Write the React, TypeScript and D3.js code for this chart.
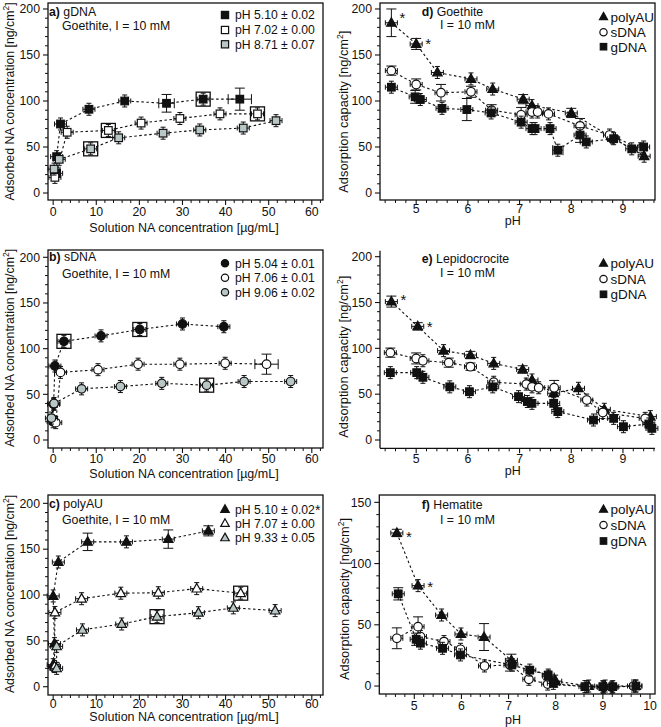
import React from 'react';
import * as d3 from 'd3';

type Pt = number[]; // [x, y, xerr?, yerr?, boxed?]

// ---------- Panel a: gDNA on goethite ----------
const aPH510: Pt[] = [[0.8, 21.4], [0.8, 39.5], [1.7, 75], [8.3, 91], [16.6, 100], [26.3, 97.5, 1.8, 9.6], [34.8, 102, 0, 0, 1], [43.3, 102, 2.7, 12]];
const aPH702: Pt[] = [[0.4, 17], [3.25, 66], [12.8, 68, 0, 0, 1], [20.4, 76], [29.4, 81], [38.7, 86], [47.4, 86, 0, 0, 1]];
const aPH871: Pt[] = [[0.2, 26], [1.4, 36.6], [8.7, 48, 0, 0, 1], [15.2, 60], [25.5, 65], [34, 68.5], [44.1, 70.6], [51.7, 78.6]];
const aLegend = ['pH 5.10 ± 0.02', 'pH 7.02 ± 0.00', 'pH 8.71 ± 0.07'];

// ---------- Panel b: sDNA on goethite ----------
const bPH504: Pt[] = [[0, 20], [0.1, 39], [0.4, 81], [2.5, 108, 0, 0, 1], [11.1, 114], [20.1, 121, 0, 0, 1], [30, 127], [39.6, 124]];
const bPH706: Pt[] = [[0.6, 19], [1.7, 74], [10.4, 77], [19.7, 83], [29.4, 83], [39.9, 84], [49.5, 83, 2.7, 11]];
const bPH906: Pt[] = [[-0.4, 24], [0.2, 40], [6.6, 56], [15.6, 58.5], [25.2, 62], [35.6, 60, 0, 0, 1], [44.3, 64], [55.1, 64]];
const bLegend = ['pH 5.04 ± 0.01', 'pH 7.06 ± 0.01', 'pH 9.06 ± 0.02'];

// ---------- Panel c: polyAU on goethite ----------
const cPH510: Pt[] = [[0, 24], [0.3, 47], [0, 99], [1.2, 136], [8, 158, 0, 9.5], [17, 158], [26.7, 161, 0, 10], [36, 170, 0, 5.5]];
const cPH707: Pt[] = [[0.3, 22], [0.4, 81], [6.6, 96], [15.7, 102], [24.4, 102.5], [33.3, 107], [43.5, 102, 0, 0, 1]];
const cPH933: Pt[] = [[0.8, 20], [0.8, 44], [6.8, 62], [15.9, 68.4], [24.1, 76.4, 0, 0, 1], [33.7, 80.7], [41.8, 86], [51.5, 83]];
const cLegend = ['pH 5.10 ± 0.02', 'pH 7.07 ± 0.00', 'pH 9.33 ± 0.05'];

// ---------- Panel d: goethite, adsorption capacity vs pH ----------
const dPolyAU: Pt[] = [[4.52, 185, 0, 15], [5.0, 162, 0, 6], [5.41, 131], [6.06, 124], [6.48, 113], [7.07, 102, 0, 5], [7.24, 95], [8.0, 87, 0, 5], [8.8, 60], [9.41, 40]];
const dSDNA: Pt[] = [[4.52, 133, 0, 5], [5.0, 118, 0, 6], [5.48, 109, 0, 9], [6.06, 110, 0, 6], [6.46, 90, 0, 6], [7.03, 85, 0, 8], [7.24, 88], [7.35, 88], [7.56, 86], [8.17, 73, 0, 8], [8.74, 63], [9.34, 48]];
const dGDNA: Pt[] = [[4.52, 115], [4.98, 104.5, 0, 7], [5.08, 101.6], [5.5, 92], [5.98, 90.7, 0, 12], [6.45, 87], [7.03, 77], [7.24, 70], [7.3, 70], [7.59, 70], [7.74, 46.5, 0.1, 0], [8.17, 63, 0, 8], [8.29, 55.5], [8.82, 59], [9.17, 48], [9.4, 50]];

// ---------- Panel e: lepidocrocite ----------
const ePolyAU: Pt[] = [[4.52, 151, 0, 6], [5.03, 124, 0, 4], [5.53, 97.5], [6.05, 92.7, 0, 4], [6.5, 83.6], [7.06, 77, 0, 4], [7.24, 65.5], [7.66, 51], [8.14, 56.4], [8.64, 33.5], [9.53, 25.5]];
const eSDNA: Pt[] = [[4.5, 95.3, 0, 5], [5.0, 89, 0, 6], [5.13, 86.5], [5.63, 84.4, 0, 5], [6.05, 80, 0, 4], [6.5, 63], [7.13, 61], [7.24, 58], [7.37, 57], [7.67, 57, 0, 8], [8.3, 43.6], [8.61, 30], [9.43, 23.6]];
const eGDNA: Pt[] = [[4.5, 73.5], [5.01, 73.5], [5.13, 68.4], [5.65, 58], [6.03, 52.7], [6.48, 58], [6.98, 47.3], [7.15, 42], [7.24, 40], [7.66, 40], [7.74, 31], [8.43, 21.8], [8.82, 23.6], [9.01, 14.5], [9.5, 17.5], [9.56, 12.7]];

// ---------- Panel f: hematite ----------
const fPolyAU: Pt[] = [[4.63, 125, 0, 3], [5.08, 82], [5.58, 58], [5.99, 42.5], [6.48, 40, 0, 11], [7.06, 21, 0, 5], [7.85, 8], [8.0, 4], [8.7, 0], [9.05, 0], [9.7, 0]];
const fSDNA: Pt[] = [[4.63, 39, 0, 8.5], [5.08, 48.5, 0, 8], [5.13, 40.4], [5.63, 36.3], [5.98, 30], [6.49, 16.4], [7.03, 17.2, 0, 5], [7.43, 5.5], [7.83, 1.6], [8.66, -0.5], [9.01, -1], [9.19, -1], [9.65, 0]];
const fGDNA: Pt[] = [[4.66, 75.3, 0, 5], [5.04, 38.2, 0, 5], [5.13, 35], [5.6, 30.8], [5.98, 25.4], [7.07, 17.2], [7.45, 13], [7.84, 9], [7.95, 2.2], [8.62, -0.5], [9.0, -0.5], [9.21, -0.5], [9.7, 0]];

const naLegend = ['polyAU', 'sDNA', 'gDNA'];

const xTicksConc = [0, 10, 20, 30, 40, 50, 60];
const yTicksConc = [0, 50, 100, 150, 200];
const xTicksPH = [5, 6, 7, 8, 9];
const xTicksPHf = [5, 6, 7, 8, 9, 10];
const yTicksCap = [0, 50, 100, 150, 200];
const yTicksCapF = [0, 50, 100, 150];

const FONT = '"Liberation Sans", Arial, Helvetica, sans-serif';
const GRAY = '#b8c6c6';
const BLACK = '#111';
const WHITE = '#fff';

type Marker = 'square' | 'circle' | 'triangle';
interface Series { data: Pt[]; marker: Marker; fill: string; }

function Sym({ m, fill, x, y, k = 1 }: { m: Marker; fill: string; x: number; y: number; k?: number }) {
  const sw = 1.2;
  if (m === 'square') { const h = 3.8 * k; return <rect x={x - h} y={y - h} width={2 * h} height={2 * h} fill={fill} stroke={BLACK} strokeWidth={sw} />; }
  if (m === 'circle') return <circle cx={x} cy={y} r={4.3 * k} fill={fill} stroke={BLACK} strokeWidth={sw} />;
  const h = 8.5 * k, w = 9.5 * k;
  return <path d={`M${x},${y - h * 0.6}L${x + w / 2},${y + h * 0.4}L${x - w / 2},${y + h * 0.4}Z`} fill={fill} stroke={BLACK} strokeWidth={sw} strokeLinejoin="miter" />;
}

interface PanelCfg {
  frame: { l: number; t: number; r: number; b: number };
  xd: number[]; yd: number[];
  xt: number[]; xm: number; yt: number[]; ym: number;
  box: boolean;
  series: Series[];
  legend: string[];
  legendAst?: boolean;
  legPos: { mx: number; tx: number; ys: number[]; k: number; fs: number };
  label: string[]; labelPos: { x: number; y: number };
  sub: string; subPos: { x: number; y: number };
  xTitle: string; xTitlePos: { x: number; y: number };
  yTitle: string; yTitlePos: { x: number; y: number; fs: number };
  tickLabelY: number;
  asts?: { s: number; i: number; dx: number; dy: number }[];
}

function minors(lo: number, hi: number, step: number, majors: number[]) {
  const out: number[] = [];
  for (let i = Math.ceil(lo / step - 1e-9); i <= Math.floor(hi / step + 1e-9); i++) {
    const v = +(i * step).toFixed(6);
    if (!majors.some(m => Math.abs(m - v) < 1e-6)) out.push(v);
  }
  return out;
}

function Panel({ c }: { c: PanelCfg }) {
  const { l, t, r, b } = c.frame;
  const x = d3.scaleLinear().domain(c.xd).range([l, r]);
  const y = d3.scaleLinear().domain(c.yd).range([b, t]);
  const line = d3.line<Pt>().x(d => x(d[0])).y(d => y(d[1]));
  const xMin = minors(c.xd[0], c.xd[1], c.xm, c.xt);
  const yMin = minors(c.yd[0], c.yd[1], c.ym, c.yt);
  const yTop = c.box ? t : y(c.yt[c.yt.length - 1]) - 6;
  return (
    <g>
      {c.box ? <rect x={l} y={t} width={r - l} height={b - t} fill="none" stroke={BLACK} strokeWidth={1.3} /> : (
        <g>
          <line x1={l} x2={l} y1={yTop} y2={b} stroke={BLACK} strokeWidth={1.3} />
          <line x1={l} x2={r} y1={b} y2={b} stroke={BLACK} strokeWidth={1.3} />
        </g>
      )}
      {c.xt.map(v => <line key={'xt' + v} x1={x(v)} x2={x(v)} y1={b} y2={b + 5} stroke={BLACK} strokeWidth={1.1} />)}
      {xMin.map(v => <line key={'xm' + v} x1={x(v)} x2={x(v)} y1={b} y2={b + 3} stroke={BLACK} strokeWidth={1} />)}
      {c.yt.map(v => <line key={'yt' + v} x1={l - 5} x2={l} y1={y(v)} y2={y(v)} stroke={BLACK} strokeWidth={1.1} />)}
      {yMin.map(v => <line key={'ym' + v} x1={l - 3} x2={l} y1={y(v)} y2={y(v)} stroke={BLACK} strokeWidth={1} />)}
      {c.xt.map(v => <text key={'xl' + v} x={x(v)} y={c.tickLabelY} textAnchor="middle" fontSize={12.3}>{v}</text>)}
      {c.yt.map(v => <text key={'yl' + v} x={l - 8} y={y(v) + 4.3} textAnchor="end" fontSize={12.3}>{v}</text>)}
      <text x={c.xTitlePos.x} y={c.xTitlePos.y} textAnchor="middle" fontSize={12.5}>{c.xTitle}</text>
      <text transform={`translate(${c.yTitlePos.x},${c.yTitlePos.y}) rotate(-90)`} textAnchor="middle" fontSize={c.yTitlePos.fs}>
        {c.yTitle} [ng/cm<tspan fontSize={8.5} dy={-5}>2</tspan><tspan dy={5}>]</tspan>
      </text>
      <text x={c.labelPos.x} y={c.labelPos.y} fontSize={12.3}><tspan fontWeight="bold">{c.label[0]}</tspan> {c.label[1]}</text>
      <text x={c.subPos.x} y={c.subPos.y} fontSize={12.3}>{c.sub}</text>
      {c.series.map((s, i) => <path key={'ln' + i} d={line(s.data) || ''} fill="none" stroke={BLACK} strokeWidth={1.1} strokeDasharray="2.5,2.5" />)}
      {c.series.map((s, si) => (
        <g key={'s' + si}>
          {s.data.map((d, i) => {
            const cx = x(d[0]), cy = y(d[1]);
            const exPx = d[2] ? Math.abs(x(d[0] + d[2]) - cx) : 0;
            const eyPx = d[3] ? Math.abs(y(d[1] + d[3]) - cy) : 0;
            const hx = exPx || 6, capH = exPx ? 5 : 2.5;
            const vy = eyPx || 6, capW = eyPx ? 5 : 2.5;
            return (
              <g key={i} stroke={BLACK} strokeWidth={1}>
                <line x1={cx - hx} x2={cx + hx} y1={cy} y2={cy} />
                <line x1={cx - hx} x2={cx - hx} y1={cy - capH} y2={cy + capH} />
                <line x1={cx + hx} x2={cx + hx} y1={cy - capH} y2={cy + capH} />
                <line x1={cx} x2={cx} y1={cy - vy} y2={cy + vy} />
                <line x1={cx - capW} x2={cx + capW} y1={cy - vy} y2={cy - vy} />
                <line x1={cx - capW} x2={cx + capW} y1={cy + vy} y2={cy + vy} />
                {d[4] ? <rect x={cx - 7} y={cy - 7} width={14} height={14} fill="none" stroke={BLACK} strokeWidth={1.3} /> : null}
              </g>
            );
          })}
          {s.data.map((d, i) => <Sym key={'m' + i} m={s.marker} fill={s.fill} x={x(d[0])} y={y(d[1])} />)}
        </g>
      ))}
      {(c.asts || []).map((a, i) => {
        const d = c.series[a.s].data[a.i];
        return <text key={'ast' + i} x={x(d[0]) + a.dx} y={y(d[1]) + a.dy} textAnchor="middle" fontSize={15}>*</text>;
      })}
      {c.series.map((s, i) => (
        <g key={'lg' + i}>
          <Sym m={s.marker} fill={s.fill} x={c.legPos.mx} y={c.legPos.ys[i]} k={c.legPos.k} />
          <text x={c.legPos.tx} y={c.legPos.ys[i] + c.legPos.fs * 0.36} fontSize={c.legPos.fs}>{c.legend[i]}{c.legendAst && i === 0 ? <tspan fontSize={14} dy={1}>*</tspan> : null}</text>
        </g>
      ))}
    </g>
  );
}

const concX = 'Solution NA concentration [µg/mL]';
const concY = 'Adsorbed NA concentration';
const capY = 'Adsorption capacity';

const panels: PanelCfg[] = [
  {
    frame: { l: 48, t: 3, r: 323, b: 200 }, xd: [-1.2, 62.6], yd: [-7.6, 206.5],
    xt: xTicksConc, xm: 2, yt: yTicksConc, ym: 10, box: true,
    series: [{ data: aPH510, marker: 'square', fill: BLACK }, { data: aPH702, marker: 'square', fill: WHITE }, { data: aPH871, marker: 'square', fill: GRAY }],
    legend: aLegend, legPos: { mx: 225, tx: 235, ys: [15, 30, 44.3], k: 0.95, fs: 12.2 },
    label: ['a)', 'gDNA'], labelPos: { x: 49, y: 15.5 }, sub: 'Goethite, I = 10 mM', subPos: { x: 62, y: 29.5 },
    xTitle: concX, xTitlePos: { x: 184, y: 232 }, yTitle: concY, yTitlePos: { x: 14, y: 101.5, fs: 12.3 }, tickLabelY: 216,
  },
  {
    frame: { l: 48, t: 250, r: 323, b: 448 }, xd: [-1.2, 62.6], yd: [-8.76, 208],
    xt: xTicksConc, xm: 2, yt: yTicksConc, ym: 10, box: true,
    series: [{ data: bPH504, marker: 'circle', fill: BLACK }, { data: bPH706, marker: 'circle', fill: WHITE }, { data: bPH906, marker: 'circle', fill: GRAY }],
    legend: bLegend, legPos: { mx: 225, tx: 235, ys: [263.3, 277.7, 292.3], k: 0.85, fs: 12.2 },
    label: ['b)', 'sDNA'], labelPos: { x: 49, y: 261.3 }, sub: 'Goethite, I = 10 mM', subPos: { x: 62, y: 277.6 },
    xTitle: concX, xTitlePos: { x: 184, y: 477.6 }, yTitle: concY, yTitlePos: { x: 14, y: 348, fs: 12.3 }, tickLabelY: 462.6,
  },
  {
    frame: { l: 48, t: 495, r: 323, b: 695 }, xd: [-1.2, 62.6], yd: [-9.05, 209.1],
    xt: xTicksConc, xm: 2, yt: yTicksConc, ym: 10, box: true,
    series: [{ data: cPH510, marker: 'triangle', fill: BLACK }, { data: cPH707, marker: 'triangle', fill: WHITE }, { data: cPH933, marker: 'triangle', fill: GRAY }],
    legend: cLegend, legendAst: true, legPos: { mx: 225, tx: 235, ys: [509.3, 523.3, 537.7], k: 0.9, fs: 12.2 },
    label: ['c)', 'polyAU'], labelPos: { x: 49, y: 508.3 }, sub: 'Goethite, I = 10 mM', subPos: { x: 62, y: 523.6 },
    xTitle: concX, xTitlePos: { x: 184, y: 721 }, yTitle: concY, yTitlePos: { x: 14, y: 594, fs: 12.3 }, tickLabelY: 708,
  },
  {
    frame: { l: 380, t: 3, r: 655, b: 200 }, xd: [4.3, 9.62], yd: [-7.6, 206.5],
    xt: xTicksPH, xm: 0.2, yt: yTicksCap, ym: 10, box: true,
    series: [{ data: dPolyAU, marker: 'triangle', fill: BLACK }, { data: dSDNA, marker: 'circle', fill: WHITE }, { data: dGDNA, marker: 'square', fill: BLACK }],
    legend: naLegend, legPos: { mx: 603.5, tx: 610.5, ys: [16.7, 32.3, 46.7], k: 0.85, fs: 13.5 },
    label: ['d)', 'Goethite'], labelPos: { x: 421.7, y: 16 }, sub: 'I = 10 mM', subPos: { x: 440, y: 29.3 },
    xTitle: 'pH', xTitlePos: { x: 512.7, y: 225 }, yTitle: capY, yTitlePos: { x: 347.5, y: 111.7, fs: 12.8 }, tickLabelY: 212.5,
    asts: [{ s: 0, i: 0, dx: 11, dy: 0 }, { s: 0, i: 1, dx: 12, dy: 5 }],
  },
  {
    frame: { l: 380, t: 250, r: 655, b: 448.3 }, xd: [4.3, 9.62], yd: [-9.05, 207.3],
    xt: xTicksPH, xm: 0.2, yt: yTicksCap, ym: 10, box: false,
    series: [{ data: ePolyAU, marker: 'triangle', fill: BLACK }, { data: eSDNA, marker: 'circle', fill: WHITE }, { data: eGDNA, marker: 'square', fill: BLACK }],
    legend: naLegend, legPos: { mx: 603.5, tx: 610.5, ys: [263.3, 279, 294.3], k: 0.85, fs: 13.5 },
    label: ['e)', 'Lepidocrocite'], labelPos: { x: 421.7, y: 263.3 }, sub: 'I = 10 mM', subPos: { x: 440, y: 276.6 },
    xTitle: 'pH', xTitlePos: { x: 512.7, y: 474.5 }, yTitle: capY, yTitlePos: { x: 348, y: 356.7, fs: 12.8 }, tickLabelY: 462.5,
    asts: [{ s: 0, i: 0, dx: 12, dy: 3.5 }, { s: 0, i: 1, dx: 12, dy: 5.5 }],
  },
  {
    frame: { l: 379.3, t: 495, r: 655, b: 694 }, xd: [4.258, 10.106], yd: [-6.5, 156],
    xt: xTicksPHf, xm: 0.2, yt: yTicksCapF, ym: 10, box: true,
    series: [{ data: fPolyAU, marker: 'triangle', fill: BLACK }, { data: fSDNA, marker: 'circle', fill: WHITE }, { data: fGDNA, marker: 'square', fill: BLACK }],
    legend: naLegend, legPos: { mx: 603.5, tx: 610.5, ys: [509.3, 525, 541], k: 0.85, fs: 13.5 },
    label: ['f)', 'Hematite'], labelPos: { x: 421.7, y: 509.3 }, sub: 'I = 10 mM', subPos: { x: 440, y: 523.6 },
    xTitle: 'pH', xTitlePos: { x: 513, y: 723.5 }, yTitle: capY, yTitlePos: { x: 349, y: 599, fs: 12.8 }, tickLabelY: 709.5,
    asts: [{ s: 0, i: 0, dx: 12, dy: 9 }, { s: 0, i: 1, dx: 12, dy: 6.5 }],
  },
];

export default function App() {
  return (
    <svg width={661} height={727} style={{ position: 'absolute', left: 0, top: 0, background: '#fff' }}
      fontFamily={FONT} fill={BLACK}>
      <rect x={0} y={0} width={661} height={727} fill="#fff" />
      {panels.map((p, i) => <Panel key={i} c={p} />)}
    </svg>
  );
}
